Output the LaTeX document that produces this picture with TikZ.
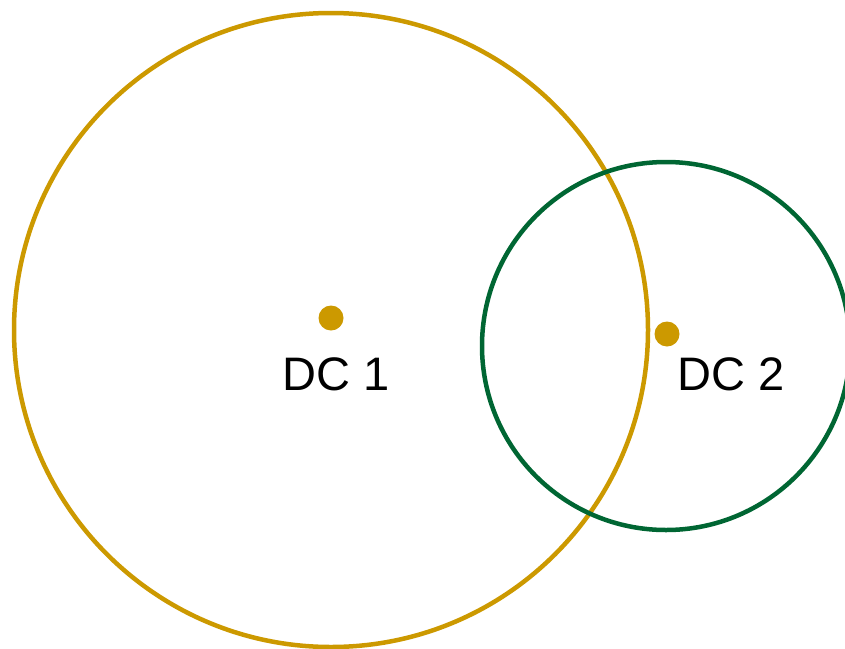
\documentclass[tikz,border=0pt]{standalone}
\usepackage{fontspec}
\setmainfont{Liberation Sans}
\usetikzlibrary{positioning}
\definecolor{ZoneGold}{HTML}{CC9900}
\definecolor{ZoneGreen}{HTML}{006633}
\definecolor{ZoneInk}{HTML}{000000}

\begin{document}
\begin{tikzpicture}[
    x=1pt, y=-1pt,
    coverage/.style={circle, draw, line width=4.5pt, inner sep=0pt},
    site/.style={circle, fill=ZoneGold, inner sep=0pt, minimum size=25pt},
    site label/.style={anchor=base, font=\fontsize{47}{50}\selectfont,
                       text=ZoneInk, inner sep=0pt}
]
    \useasboundingbox (0,0) rectangle (845,648);

    \node[coverage, draw=ZoneGold, minimum size=634pt] (zone1) at (331,330) {};
    \node[coverage, draw=ZoneGreen, minimum size=368pt] (zone2) at (666,346) {};

    \node[site] (dc1) at (331,318) {};
    \node[site] (dc2) at (667,334) {};

    \node[site label] (dc1 label) at (336,390) {DC 1};
    \node[site label] (dc2 label) at (731,390) {DC 2};
\end{tikzpicture}
\end{document}
